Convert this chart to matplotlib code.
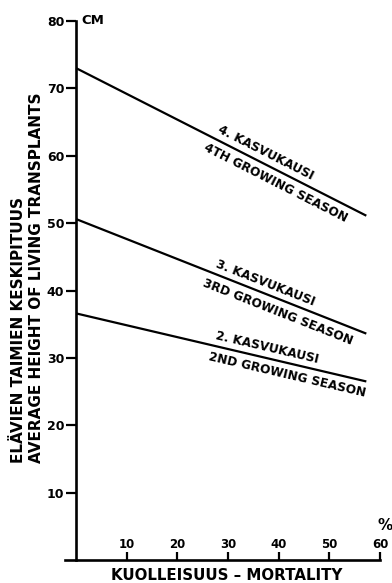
import matplotlib
matplotlib.use("Agg")
import matplotlib.pyplot as plt
import numpy as np

# Mean height of surviving transplants vs. mortality, by growing season
mortality_range = [0, 57.3]
seasons_fi = ["2. KASVUKAUSI", "3. KASVUKAUSI", "4. KASVUKAUSI"]
seasons_en = ["2ND GROWING SEASON", "3RD GROWING SEASON", "4TH GROWING SEASON"]
height_at_start = [36.6, 50.6, 73.0]
height_at_end = [26.5, 33.6, 51.1]

x_ticks = [10, 20, 30, 40, 50, 60]
y_ticks = [10, 20, 30, 40, 50, 60, 70, 80]

# where the two label rows sit along each line (mortality %)
upper_label_x = [37.3, 36.7, 36.4]
lower_label_x = [42.3, 40.7, 40.5]

plt.rcParams["font.family"] = ["DejaVu Sans"]
plt.rcParams["font.weight"] = "bold"

W, H = 392, 583
fig = plt.figure(figsize=(W / 100, H / 100), dpi=100)
ax = fig.add_axes([65 / W, (H - 560) / H, (380 - 65) / W, (560 - 21) / H])
ax.set_xlim(-2.2, 60)
ax.set_ylim(0, 80)

for s in ["top", "right"]:
    ax.spines[s].set_visible(False)
ax.spines["left"].set_position(("data", 0))
ax.spines["left"].set_linewidth(1.9)
ax.spines["bottom"].set_linewidth(1.9)

ax.set_xticks(x_ticks)
ax.set_yticks(y_ticks)
ax.tick_params(axis="x", direction="in", length=6, width=1.6, pad=-16, labelsize=8.5)
ax.tick_params(axis="y", direction="out", length=7, width=1.6, pad=1.5, labelsize=9)
for lab in ax.get_xticklabels() + ax.get_yticklabels():
    lab.set_fontweight("bold")

for i in range(len(seasons_fi)):
    x0, x1 = mortality_range
    y0, y1 = height_at_start[i], height_at_end[i]
    ax.plot([x0, x1], [y0, y1], color="black", lw=1.6, solid_capstyle="butt")

    # slope of the line on screen, for rotating its labels
    p0 = ax.transData.transform((x0, y0))
    p1 = ax.transData.transform((x1, y1))
    ang = np.arctan2(p1[1] - p0[1], p1[0] - p0[0])
    deg = np.degrees(ang)
    nx, ny = -np.sin(ang), np.cos(ang)

    def on_line(x):
        return y0 + (y1 - y0) * (x - x0) / (x1 - x0)

    xu = upper_label_x[i]
    ax.annotate(seasons_fi[i], xy=(xu, on_line(xu)), xytext=(5 * nx, 5 * ny),
                textcoords="offset points", rotation=deg, rotation_mode="anchor",
                ha="center", va="baseline", fontsize=8.7, fontweight="bold")
    xl = lower_label_x[i]
    ax.annotate(seasons_en[i], xy=(xl, on_line(xl)), xytext=(-4 * nx, -4 * ny),
                textcoords="offset points", rotation=deg, rotation_mode="anchor",
                ha="center", va="top", fontsize=8.7, fontweight="bold")

# units
ax.annotate("CM", xy=(0, 80), xytext=(4, 0), textcoords="offset points",
            ha="left", va="center", fontsize=9.5, fontweight="bold")
ax.annotate("%", xy=(60, 0), xytext=(3.5, 24.5), textcoords="offset points",
            ha="center", va="center", fontsize=11, fontweight="bold", annotation_clip=False)

fig.text(28 / W, 1 - 463 / H,
         "ELÄVIEN TAIMIEN KESKIPITUUS\nAVERAGE HEIGHT OF LIVING TRANSPLANTS",
         rotation=90, ha="center", va="bottom", multialignment="left",
         fontsize=11, fontweight="bold", linespacing=1.25)
fig.text(227 / W, 1 - 575 / H, "KUOLLEISUUS – MORTALITY",
         ha="center", va="center", fontsize=10.8, fontweight="bold")

fig.savefig("out.png", dpi=100)
